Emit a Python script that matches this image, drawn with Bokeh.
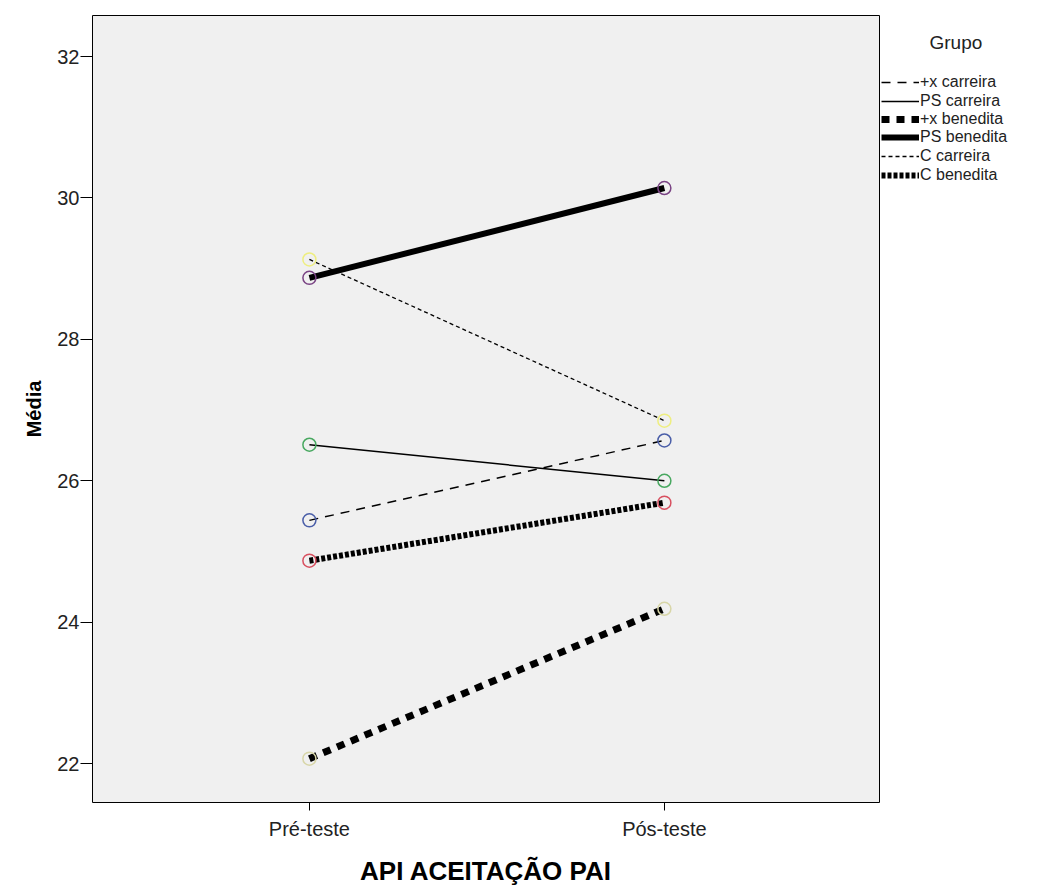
from bokeh.plotting import figure
from bokeh.models import Range1d, FixedTicker, Legend, LegendItem, Label
from bokeh.layouts import row
from bokeh.embed import file_html
from bokeh.resources import INLINE

categories = ["Pré-teste", "Pós-teste"]
groups = ["+x carreira", "PS carreira", "+x benedita", "PS benedita", "C carreira", "C benedita"]
pre_values = [25.44, 26.51, 22.07, 28.87, 29.13, 24.87]
post_values = [26.57, 26.00, 24.19, 30.14, 26.85, 25.69]
y_ticks = [22, 24, 26, 28, 30, 32]
legend_title = "Grupo"

line_widths = [1.5, 1.5, 7, 6, 1.3, 6]
line_dashes = ["9 7", "solid", "8 7", "solid", "4 3", "4 2"]
marker_colors = ["#4a5ea8", "#48a860", "#d8d6a8", "#7a4484", "#eeee80", "#d85060"]

xs = [0, 1]
FW, FH = 787, 787
LW = 150

p = figure(frame_width=FW, frame_height=FH, output_backend="svg", toolbar_location=None,
           x_range=Range1d(-0.611, 1.606), y_range=Range1d(21.45, 32.58),
           min_border_left=92, min_border_top=15, min_border_right=1, min_border_bottom=70)

p.background_fill_color = "#f0f0f0"
p.border_fill_color = "white"
p.outline_line_color = "black"
p.outline_line_width = 1
p.grid.visible = False

for i, g in enumerate(groups):
    ys = [pre_values[i], post_values[i]]
    p.line(xs, ys, line_color="black", line_width=line_widths[i], line_dash=line_dashes[i])
for i, g in enumerate(groups):
    ys = [pre_values[i], post_values[i]]
    p.scatter(xs, ys, marker="circle", size=13, fill_color=None,
              line_color=marker_colors[i], line_width=1.5)

p.xaxis.ticker = FixedTicker(ticks=[0, 1])
p.xaxis.major_label_overrides = {0: categories[0], 1: categories[1]}
p.yaxis.ticker = FixedTicker(ticks=y_ticks)
p.yaxis.major_label_overrides = {t: str(t) for t in y_ticks}

for ax in (p.xaxis[0], p.yaxis[0]):
    ax.axis_line_color = None
    ax.major_tick_line_color = "black"
    ax.major_tick_in = 0
    ax.minor_tick_line_color = None
    ax.major_label_text_font = "Liberation Sans"
    ax.major_label_text_font_size = "20px"
    ax.major_label_text_color = "#222222"
    ax.axis_label_text_font = "Liberation Sans"
    ax.axis_label_text_font_style = "bold"
    ax.axis_label_text_color = "black"

p.xaxis.major_tick_out = 8
p.yaxis.major_tick_out = 12
p.xaxis.axis_label = "API ACEITAÇÃO PAI"
p.yaxis.axis_label = "Média"
p.xaxis.axis_label_text_font_size = "26px"
p.yaxis.axis_label_text_font_size = "20px"
p.xaxis.major_label_standoff = 7
p.xaxis.axis_label_standoff = 13
p.yaxis.major_label_standoff = 1
p.yaxis.axis_label_standoff = 9

# legend panel (a second figure to the right of the plot)
q = figure(frame_width=LW, frame_height=FH, output_backend="svg", toolbar_location=None,
           x_range=Range1d(0, LW), y_range=Range1d(0, FH),
           min_border_left=0, min_border_top=15, min_border_right=0, min_border_bottom=70)
q.axis.visible = False
q.grid.visible = False
q.outline_line_color = None
q.background_fill_color = "white"
q.border_fill_color = "white"

ROW = 18.5
FIRST = 67  # distance from frame top to centre of first legend row
for i, g in enumerate(groups):
    # off-screen stand-in renderer, only used to draw the legend swatch
    r = q.line([-20, -10], [-20, -20], line_color="black", line_width=line_widths[i],
               line_dash=line_dashes[i])
    lg = Legend(items=[LegendItem(label=g, renderers=[r])],
                location=(1, round(FH - (FIRST + ROW * i) - 9)))
    lg.label_text_font = "Liberation Sans"
    lg.label_text_font_size = "16px"
    lg.label_text_color = "#222222"
    lg.glyph_width = 38
    lg.glyph_height = 18
    lg.label_height = 18
    lg.spacing = 0
    lg.label_standoff = 1
    lg.padding = 0
    lg.margin = 0
    lg.border_line_color = None
    lg.background_fill_color = None
    q.add_layout(lg, "center")

q.add_layout(Label(x=49, y=FH - 27, text=legend_title, text_font="Liberation Sans",
                   text_font_size="19px", text_color="#222222",
                   text_baseline="middle", text_align="left"))

layout = row(p, q)
open("out.html", "w").write(file_html(layout, INLINE))
